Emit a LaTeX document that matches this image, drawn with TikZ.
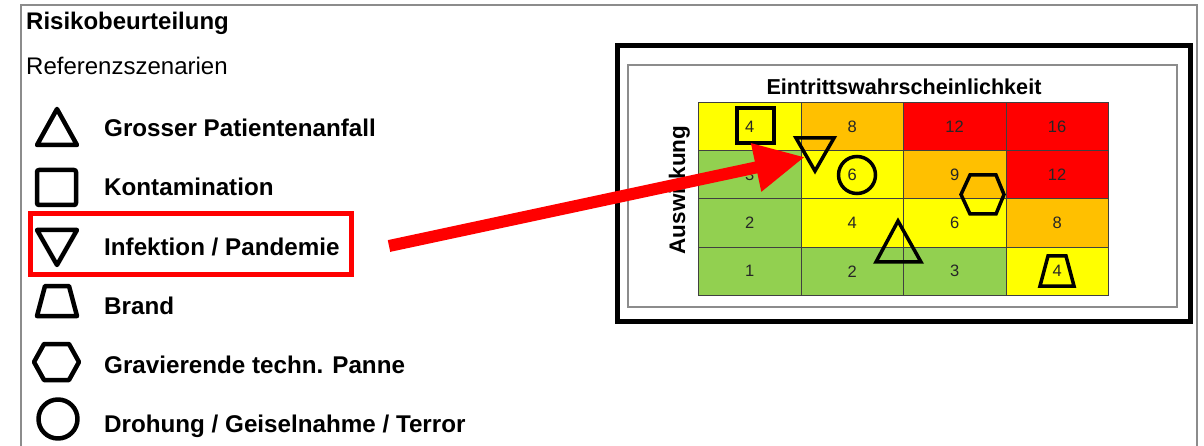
\documentclass[tikz,border=0pt]{standalone}
\usepackage{fontspec}
\setmainfont{Liberation Sans}
\usetikzlibrary{arrows.meta}
\definecolor{cY}{HTML}{FFFF00}
\definecolor{cO}{HTML}{FFC000}
\definecolor{cR}{HTML}{FF0000}
\definecolor{cG}{HTML}{92D050}
\definecolor{frameg}{HTML}{8C8C8C}
\begin{document}
\begin{tikzpicture}[x=1pt,y=-1pt,
  legsym/.style={line width=4.5pt, line join=round},
  gridsym/.style={line width=3.5pt, line join=miter},
  cellbox/.style={draw=black!75, line width=0.8pt, inner sep=0pt, minimum width=102.5pt, minimum height=48.25pt, anchor=north west},
  numtxt/.style={font=\fontsize{16.5}{19}\selectfont, text=black!85, inner sep=0pt},
  legtext/.style={anchor=base west, inner sep=0pt, font=\fontsize{24.2}{29}\selectfont\bfseries},
]
\fill[white] (0,0) rectangle (1204,446);
\useasboundingbox (0,0) rectangle (1204,446);

% outer page frame
\draw[frameg, line width=1.5pt] (21,446) -- (21,5) -- (1197,5) -- (1197,446);

% headings
\node[anchor=base west, inner sep=0pt, font=\fontsize{24}{29}\selectfont\bfseries] (head) at (26,30) {Risikobeurteilung};
\node[anchor=base west, inner sep=0pt, font=\fontsize{24}{29}\selectfont] (sub) at (26,75) {Referenzszenarien};

% legend texts
\node[legtext] (l1) at (104,137) {Grosser Patientenanfall};
\node[legtext] (l2) at (104,196) {Kontamination};
\node[legtext] (l3) at (104,255) {Infektion / Pandemie};
\node[legtext] (l4) at (104,314) {Brand};
\node[legtext] (l5) at (104,373) {Gravierende techn. Panne};
\node[legtext] (l6) at (104,432) {Drohung / Geiselnahme / Terror};

% legend symbols
\draw[legsym] (57,109) -- (77,145) -- (37,145) -- cycle;
\draw[legsym, rounded corners=2pt] (37,170) rectangle (76,205);
\draw[legsym] (37,230) -- (77,230) -- (57,265) -- cycle;
\draw[legsym] (45,286) -- (69,286) -- (77,316) -- (37,316) -- cycle;
\draw[legsym] (34,362) -- (44,344) -- (69,344) -- (79,362) -- (69,380) -- (44,380) -- cycle;
\draw[legsym] (58,419) circle[radius=19.5];

% highlight box
\draw[cR, line width=5pt] (30.5,213.5) rectangle (351,274.5);

% matrix frames
\draw[black, line width=5pt] (617,46) rectangle (1190,321);
\draw[frameg, line width=2pt] (628,65) rectangle (1177,307);

% grid cells
\foreach \r/\c/\v/\col in {0/0/4/cY, 0/1/8/cO, 0/2/12/cR, 0/3/16/cR,
                           1/0/3/cG, 1/1/6/cY, 1/2/9/cO, 1/3/12/cR,
                           2/0/2/cG, 2/1/4/cY, 2/2/6/cY, 2/3/8/cO,
                           3/0/1/cG, 3/1/2/cG, 3/2/3/cG, 3/3/4/cY} {
  \node[cellbox, fill=\col] (c\r\c) at ({698+102.5*\c},{102+48.25*\r}) {};
  \node[numtxt] at (c\r\c.center) {\v};
}

% axis labels
\node[anchor=base, inner sep=0pt, font=\fontsize{21.6}{26}\selectfont\bfseries] (xlab) at (904,95) {Eintrittswahrscheinlichkeit};
\node[anchor=base, inner sep=0pt, rotate=90, font=\fontsize{22.5}{27}\selectfont\bfseries] (ylab) at (685,190) {Auswirkung};

% symbols placed in the grid
\draw[gridsym] (737,108) rectangle (774,143);
\draw[gridsym] (796,138) -- (834,138) -- (815,171) -- cycle;
\draw[gridsym] (857,175) circle[radius=18.5];
\draw[gridsym] (961,194.5) -- (970,175) -- (996,175) -- (1004,194.5) -- (996,214) -- (970,214) -- cycle;
\draw[gridsym] (898,221) -- (921,262) -- (876,262) -- cycle;
\draw[gridsym] (1048,256) -- (1066,256) -- (1074,286) -- (1040,286) -- cycle;

% arrow
\coordinate (arrS) at (389,246);
\coordinate (arrE) at (805,157);
\draw[cR, line width=12pt, -{Triangle[length=50pt, width=46pt]}] (arrS) -- (arrE);
\end{tikzpicture}
\end{document}
